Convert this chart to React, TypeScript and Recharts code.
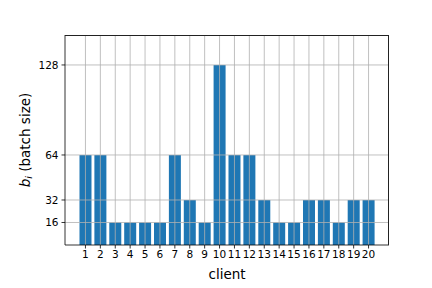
import { Bar, BarChart, ReferenceLine, XAxis, YAxis } from "recharts";

const clients = ["1", "2", "3", "4", "5", "6", "7", "8", "9", "10", "11", "12", "13", "14", "15", "16", "17", "18", "19", "20"];
const batchSizes = [64, 64, 16, 16, 16, 16, 64, 32, 16, 128, 64, 64, 32, 16, 16, 32, 32, 16, 32, 32];
const yTicks = [16, 32, 64, 128];

const data = clients.map((client, i) => ({ client, value: batchSizes[i] }));

const font = "DejaVu Sans, sans-serif";
const gridColor = "#b0b0b0";

const YLabel = () => (
    <text
        x={0}
        y={0}
        transform="translate(25, 140) rotate(-90)"
        textAnchor="middle"
        dominantBaseline="central"
        fontFamily={font}
        fontSize={13.5}
        fill="#000"
    >
        <tspan fontStyle="italic">b</tspan>
        <tspan fontStyle="italic" fontSize={9.5} dy={3}>i</tspan>
        <tspan dy={-3}> (batch size)</tspan>
    </text>
);

export default function App() {
    return (
        <div style={{ position: "absolute", left: 0, top: 0, width: 432, height: 288, background: "#fff" }}>
            <BarChart
                width={432}
                height={288}
                data={data}
                margin={{ top: 35, right: 43, bottom: 0, left: 0 }}
                barCategoryGap="10%"
            >
                <XAxis
                    dataKey="client"
                    height={43}
                    padding={{ left: 13, right: 13 }}
                    tickLine={{ stroke: "#000", strokeWidth: 0.8 }}
                    axisLine={{ stroke: "#000", strokeWidth: 0.8 }}
                    tickSize={3.5}
                    tickMargin={2}
                    interval={0}
                    tick={{ fill: "#000", fontSize: 10.5, fontFamily: font }}
                    label={{ value: "client", position: "insideBottom", offset: 9, fill: "#000", fontSize: 13.5, fontFamily: font }}
                />
                <YAxis
                    type="number"
                    domain={[0, 149.3]}
                    ticks={yTicks}
                    width={65}
                    tickLine={{ stroke: "#000", strokeWidth: 0.8 }}
                    axisLine={{ stroke: "#000", strokeWidth: 0.8 }}
                    tickSize={3.5}
                    tickMargin={3}
                    tick={{ fill: "#000", fontSize: 10.5, fontFamily: font }}
                    label={<YLabel />}
                />
                <Bar dataKey="value" fill="#1f77b4" isAnimationActive={false} />
                {clients.map((c) => (
                    <ReferenceLine key={"x" + c} x={c} stroke={gridColor} strokeWidth={0.8} />
                ))}
                {yTicks.map((t) => (
                    <ReferenceLine key={"y" + t} y={t} stroke={gridColor} strokeWidth={0.8} />
                ))}
            </BarChart>
            {/* top and right spines */}
            <div
                style={{
                    position: "absolute",
                    left: 65,
                    top: 35,
                    width: 324,
                    height: 210,
                    borderTop: "1px solid #222",
                    borderRight: "1px solid #222",
                    boxSizing: "border-box",
                    pointerEvents: "none",
                }}
            />
        </div>
    );
}
